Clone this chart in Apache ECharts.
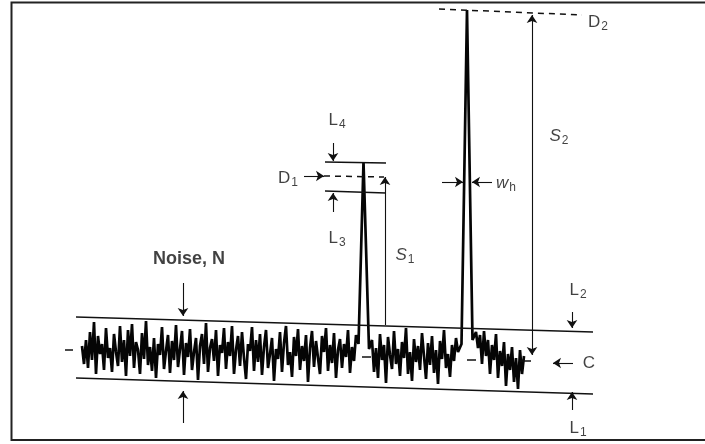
<!DOCTYPE html>
<html>
<head>
<meta charset="utf-8">
<script src="https://cdn.jsdelivr.net/npm/echarts@6/dist/echarts.min.js"></script>
<style>
  html, body { margin: 0; padding: 0; background: #fff; }
  #chart { width: 705px; height: 444px; }
</style>
</head>
<body>
<div id="chart"></div>
<script>
// baseline noise (step 2 along time)
const noiseStep = 2;
const noiseA = [98, 80, 104, 76, 112, 84, 122, 70, 108, 90, 100, 74,
  116, 86, 96, 72, 110, 92, 78, 118, 82, 104, 68, 114,
  88, 120, 76, 102, 94, 70, 111, 85, 123, 79, 97, 73,
  106, 66, 100, 89, 117, 75, 93, 109, 71, 103, 84, 119,
  77, 95, 113, 69, 101, 87, 115, 74, 92, 106, 64, 98,
  110, 80, 121, 72, 96, 105, 83, 114, 68, 99, 91, 116,
  75, 102, 88, 118, 70, 94, 108, 78, 112, 86, 65, 100,
  93, 117, 73, 104, 82, 110, 69, 97, 114, 76, 90, 106,
  63, 95, 85, 112, 72, 101, 118, 79, 92, 67, 107, 88,
  115, 74, 98, 83, 109, 62, 96, 113, 77, 103, 86, 70,
  108, 92, 116, 73, 99, 81, 111, 66, 94, 105, 76, 100,
  87, 114, 71, 97, 83, 109];
const noiseB = [104, 72, 96, 66, 110, 84, 99, 61, 107, 89, 75, 113,
  80, 95, 68, 102, 86, 116, 70, 92, 63, 105, 82, 98,
  74, 111, 88, 65, 101, 79, 108, 71, 94, 60, 103, 85,
  114, 76, 90, 67, 99, 83, 106, 92];
const noiseC = [112, 96, 109, 80, 113, 88, 104, 70, 99, 84, 110, 66,
  93, 78, 102, 58, 90, 74, 97, 62, 86, 55, 94, 70, 88];
const noiseStart = [82, 372, 476];
const peak1 = [[358.5, 100], [363.5, 282], [369, 95]];
const peak2 = [[461.5, 100], [467, 434], [472.5, 104]];

// construction lines of the figure
const bandLines = [[[76, 127], [593, 112]], [[76, 66], [593, 50]]];
const levelLines = [[[325, 282], [386, 281]], [[325, 253], [386, 251]]];
const dashLines = [[[324, 268], [384, 267]], [[439, 435], [582, 429]]];
const tickLines = [[[65, 94], [73, 94]], [[520, 83], [531, 83]], [[362, 87], [371, 87]], [[467, 84], [476, 84]]];
const arrows = [
  [[385, 119], [385, 267]],   // S1
  [[333, 301], [333, 283]],   // L4
  [[333, 232], [333, 251]],   // L3
  [[304, 268], [324, 268]],   // D1
  [[442, 262], [463, 262]],   // wh left
  [[492, 262], [472, 262]],   // wh right
  [[183, 161], [183, 128]],   // noise top
  [[183, 21], [183, 53]],     // noise bottom
  [[572, 132], [572, 116]],   // L2
  [[572, 34], [572, 52]],     // L1
  [[573, 81], [553, 81]]      // C
];
const doubleArrows = [[[532, 89], [532, 429]]]; // S2

const labels = [
  [337, 324, '{m|L}{s|4}'],
  [288, 266, '{m|D}{s|1}'],
  [337, 206, '{m|L}{s|3}'],
  [405, 189, '{i|S}{s|1}'],
  [559, 308, '{i|S}{s|2}'],
  [598, 422, '{m|D}{s|2}'],
  [506, 261, '{i|w}{s|h}'],
  [189, 185, '{b|Noise, N}'],
  [578, 154, '{m|L}{s|2}'],
  [589, 81, '{m|C}'],
  [578, 16, '{m|L}{s|1}']
];

function buildSignal() {
  const pts = [];
  [noiseA, noiseB, noiseC].forEach(function (arr, k) {
    arr.forEach(function (v, i) { pts.push([noiseStart[k] + i * noiseStep, v]); });
    if (k === 0) peak1.forEach(function (p) { pts.push(p); });
    if (k === 1) peak2.forEach(function (p) { pts.push(p); });
  });
  return pts;
}

function segs(list) {
  return list.map(function (c) { return { coords: c }; });
}

const ink = '#111';
const font = '"Liberation Sans", Arial, sans-serif';

const chart = echarts.init(document.getElementById('chart'));
chart.setOption({
  animation: false,
  grid: { left: 0, right: 0, top: 0, bottom: 0 },
  xAxis: { type: 'value', min: 0, max: 705, show: false },
  yAxis: { type: 'value', min: 0, max: 444, show: false },
  graphic: [{
    type: 'rect',
    shape: { x: 11.5, y: 2.5, width: 720, height: 437.5 },
    style: { fill: 'none', stroke: '#222', lineWidth: 2 },
    z: 100
  }],
  series: [
    {
      type: 'line',
      data: buildSignal(),
      showSymbol: false,
      sampling: null,
      lineStyle: { color: '#050505', width: 2.7, join: 'miter', miterLimit: 3 },
      z: 3
    },
    {
      type: 'lines',
      coordinateSystem: 'cartesian2d',
      data: segs(bandLines.concat(levelLines)),
      lineStyle: { color: ink, width: 1.3, opacity: 1 },
      z: 4
    },
    {
      type: 'lines',
      coordinateSystem: 'cartesian2d',
      data: segs(tickLines),
      lineStyle: { color: ink, width: 1.5, opacity: 1 },
      z: 4
    },
    {
      type: 'lines',
      coordinateSystem: 'cartesian2d',
      data: segs(dashLines),
      lineStyle: { color: ink, width: 1.5, type: [6, 5], opacity: 1 },
      z: 4
    },
    {
      type: 'lines',
      coordinateSystem: 'cartesian2d',
      data: segs(arrows),
      symbol: ['none', 'arrow'],
      symbolSize: 8,
      lineStyle: { color: ink, width: 1.1, opacity: 1 },
      z: 4
    },
    {
      type: 'lines',
      coordinateSystem: 'cartesian2d',
      data: segs(doubleArrows),
      symbol: ['arrow', 'arrow'],
      symbolSize: 8,
      lineStyle: { color: ink, width: 1.1, opacity: 1 },
      z: 4
    },
    {
      type: 'scatter',
      data: labels.map(function (l) { return { value: [l[0], l[1]], text: l[2] }; }),
      symbolSize: 0,
      label: {
        show: true,
        position: 'inside',
        formatter: function (p) { return p.data.text; },
        rich: {
          m: { fontFamily: font, fontSize: 17, color: '#111', lineHeight: 20 },
          i: { fontFamily: font, fontSize: 17, color: '#111', fontStyle: 'italic', lineHeight: 20 },
          b: { fontFamily: font, fontSize: 18, color: '#111', fontWeight: 'bold', lineHeight: 20 },
          s: { fontFamily: font, fontSize: 12, color: '#111', lineHeight: 12, padding: [10, 0, 0, 1] }
        }
      },
      z: 5
    }
  ]
});
</script>
</body>
</html>
